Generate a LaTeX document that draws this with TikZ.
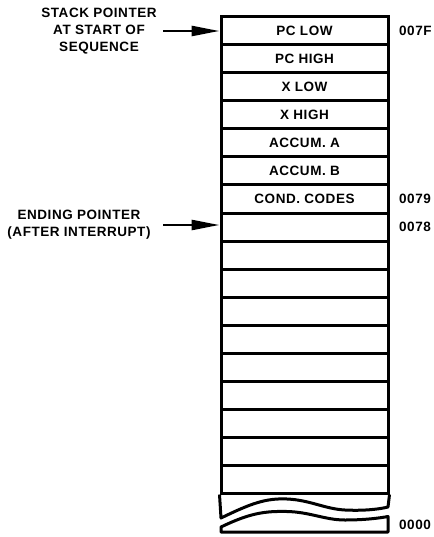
\documentclass[tikz,border=0pt]{standalone}
\usepackage{fontspec}
\setmainfont{Liberation Sans}[LetterSpace=4]
\usetikzlibrary{arrows.meta}
\begin{document}
\begin{tikzpicture}[x=1pt,y=-1pt,
  cell/.style={draw, line width=3pt, minimum width=167pt, minimum height=28pt, inner sep=0pt,
     font=\fontsize{13.5}{15}\selectfont\bfseries},
  addr/.style={anchor=west, inner sep=0pt, font=\fontsize{13.5}{15}\selectfont\bfseries},
  lbl/.style={align=center, inner sep=0pt, font=\fontsize{13.5}{17}\selectfont\bfseries},
  ptr/.style={line width=2.6pt, -{Triangle[length=28pt,width=10pt]}},
  brk/.style={line width=3pt, line join=round}]
\useasboundingbox (0,0) rectangle (433,537);
% stack cells
\foreach \i/\t in {1/PC LOW,2/PC HIGH,3/X LOW,4/X HIGH,5/ACCUM. A,6/ACCUM. B,7/COND. CODES,8/,9/,10/,11/,12/,13/,14/,15/,16/,17/}{
  \node[cell] (r\i) at (304.5,{3+28*\i}) {\t};
}
% broken bottom
\draw[brk] (r17.south west) -- (221,518)
  .. controls (250,504) and (265,498) .. (287,499)
  .. controls (310,500) and (325,509) .. (345,510)
  .. controls (365,511) and (380,509) .. (388,507) -- (r17.south east);
\draw[brk] (221,527)
  .. controls (250,513) and (265,511) .. (287,511.5)
  .. controls (310,512) and (325,520) .. (345,520)
  .. controls (365,520) and (380,518) .. (388,516.5)
  -- (388,532) -- (221,532) -- cycle;
% addresses
\node[addr] (a7f) at (399,31) {007F};
\node[addr] (a79) at (399,199) {0079};
\node[addr] (a78) at (399,227) {0078};
\node[addr] (a00) at (399,525) {0000};
% pointers
\node[lbl] (sp) at (99,31) {STACK POINTER\\AT START OF\\SEQUENCE};
\node[lbl] (ep) at (79,225) {ENDING POINTER\\(AFTER INTERRUPT)};
\coordinate (s1) at (163,31);
\coordinate (s2) at (163,225);
\draw[ptr] (s1) -- (r1.west);
\draw[ptr] (s2) -- (r8.west |- s2);
\end{tikzpicture}
\end{document}
